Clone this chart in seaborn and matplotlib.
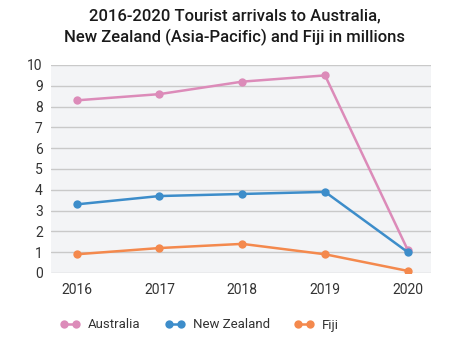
import matplotlib
matplotlib.use("Agg")
import matplotlib.pyplot as plt
import seaborn as sns
import pandas as pd

years = [2016, 2017, 2018, 2019, 2020]
australia = [8.3, 8.6, 9.2, 9.5, 1.1]
new_zealand = [3.3, 3.7, 3.8, 3.9, 1.0]
fiji = [0.9, 1.2, 1.4, 0.9, 0.1]
series_names = ["Australia", "New Zealand", "Fiji"]
colors = ["#dc8bb9", "#3d8dca", "#f4894d"]

df = pd.DataFrame({
    "year": years * 3,
    "arrivals": australia + new_zealand + fiji,
    "country": [n for n in series_names for _ in years],
})

sns.set_theme(style="white")
plt.rcParams["font.family"] = ["Roboto", "DejaVu Sans"]

fig = plt.figure(figsize=(4.7, 3.41), dpi=100)
ax = fig.add_axes([51 / 470, 1 - 273 / 341, 380 / 470, 208 / 341])
ax.set_facecolor("#f3f4f6")

sns.lineplot(data=df, x="year", y="arrivals", hue="country",
             hue_order=series_names, palette=colors, marker="o",
             markersize=6, markeredgewidth=0, linewidth=1.8, ax=ax,
             legend=False)

ax.set_xlim(2016 - 0.31, 2020 + 0.28)
ax.set_ylim(0, 10)
ax.set_yticks(range(0, 11))
ax.set_xticks(years)
ax.set_xticklabels([str(y) for y in years])
ax.grid(axis="y", color="#c9c9c9", linewidth=1)
ax.set_axisbelow(True)
for s in ax.spines.values():
    s.set_visible(False)
ax.tick_params(axis="both", length=0, labelsize=10, colors="#333333")
ax.tick_params(axis="y", pad=6)
ax.tick_params(axis="x", pad=7)
ax.set_xlabel("")
ax.set_ylabel("")

fig.text(0.5, 1 - 27 / 341,
         "2016-2020 Tourist arrivals to Australia,\nNew Zealand (Asia-Pacific) and Fiji in millions",
         ha="center", va="center", fontsize=12, fontweight="medium",
         color="#1a1a1a", linespacing=1.45)

handles = [plt.Line2D([], [], color=c, marker="o", markersize=6,
                      markeredgewidth=0, linewidth=1.8) for c in colors]
fig.legend(handles, series_names, loc="center left", ncol=3, numpoints=2,
           bbox_to_anchor=(0.114, 1 - 325 / 341), frameon=False,
           fontsize=9.5, handlelength=1.5, handletextpad=0.6,
           columnspacing=1.85, labelcolor="#333333", borderpad=0)

fig.savefig("out.png", dpi=100)
